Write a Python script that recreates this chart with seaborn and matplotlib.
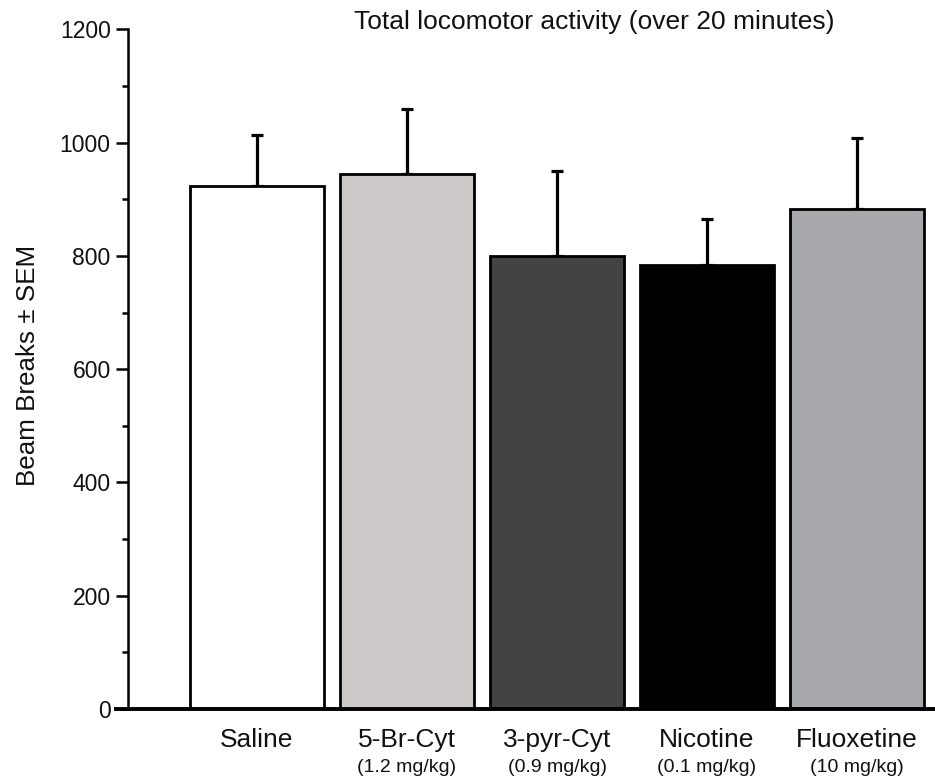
import matplotlib
matplotlib.use("Agg")
import matplotlib.pyplot as plt
import matplotlib.transforms as mtransforms
from matplotlib.ticker import MultipleLocator
import seaborn as sns
import pandas as pd

# Group names, doses, mean beam breaks and SEM
groups = ["Saline", "5-Br-Cyt", "3-pyr-Cyt", "Nicotine", "Fluoxetine"]
doses = ["", "(1.2 mg/kg)", "(0.9 mg/kg)", "(0.1 mg/kg)", "(10 mg/kg)"]
means = [924, 945, 799, 784, 883]
sems = [89, 114, 151, 81, 125]
bar_colors = ["#ffffff", "#cdcac9", "#434343", "#000000", "#a8a9ac"]

sns.set_theme(style="ticks")
plt.rcParams["font.family"] = ["Liberation Sans", "DejaVu Sans"]

df = pd.DataFrame({"group": groups, "mean": means})

fig = plt.figure(figsize=(9.35, 7.77), dpi=100)
ax = fig.add_axes([0.1369, 0.0875, 0.8631, 0.8748])

# Upward-only SEM whiskers, drawn first so the bars sit on top of their base
ax.errorbar(range(len(groups)), means, yerr=[[0] * len(sems), sems],
            fmt="none", ecolor="black", elinewidth=2.3, capsize=4.5,
            capthick=2.3, zorder=1)

sns.barplot(data=df, x="group", y="mean", hue="group", palette=bar_colors,
            order=groups, hue_order=groups, legend=False, width=0.89,
            edgecolor="black", linewidth=2.0, saturation=1, ax=ax, zorder=2)

ax.set_xlim(-0.86, 4.52)
ax.set_ylim(0, 1200)
ax.yaxis.set_major_locator(MultipleLocator(200))
ax.yaxis.set_minor_locator(MultipleLocator(100))
ax.tick_params(axis="y", which="major", length=8.5, width=1.8,
               labelsize=16.5, pad=4, color="black", labelcolor="#111111")
ax.tick_params(axis="y", which="minor", length=4.3, width=1.8, color="black")
ax.tick_params(axis="x", length=0)
ax.set_xticks(range(len(groups)))
ax.set_xticklabels([])
ax.set_xlabel("")
ax.set_ylabel("")

sns.despine(ax=ax)
ax.spines["left"].set_linewidth(1.8)
ax.spines["bottom"].set_linewidth(2.8)
ax.spines["left"].set_color("black")
ax.spines["bottom"].set_color("black")
ax.spines["bottom"].set_bounds(-0.94, 4.52)

# Two-line category labels: name, then dose in smaller type
trans = mtransforms.blended_transform_factory(ax.transData, fig.transFigure)
for i, (name, dose) in enumerate(zip(groups, doses)):
    ax.text(i, 1 - 740 / 777, name, transform=trans, ha="center",
            va="center", fontsize=19, color="#111111")
    if dose:
        ax.text(i, 1 - 767 / 777, dose, transform=trans, ha="center",
                va="center", fontsize=14, color="#111111")

fig.text(594 / 935, 1 - 22 / 777, "Total locomotor activity (over 20 minutes)",
         ha="center", va="center", fontsize=19, color="#111111")
fig.text(28 / 935, 1 - 365 / 777, "Beam Breaks \u00b1 SEM", rotation=90,
         ha="center", va="center", fontsize=18.7, color="#111111")

fig.savefig("out.png", dpi=100)
